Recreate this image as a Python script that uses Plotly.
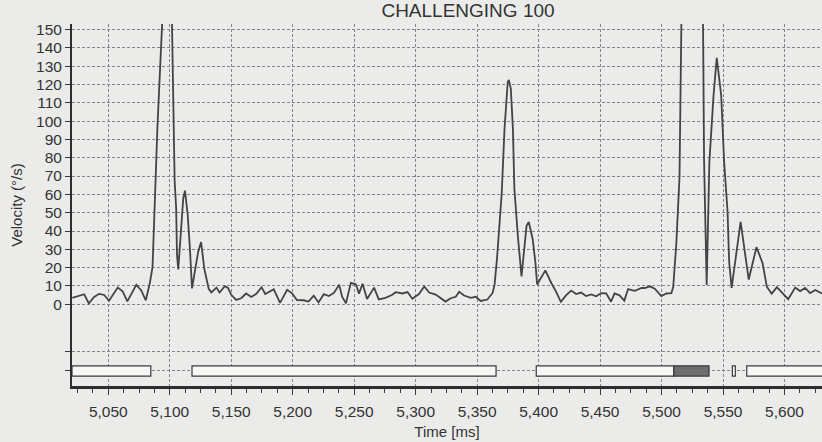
import plotly.graph_objects as go

# Eye-movement velocity trace (time in ms, velocity in deg/s)
time_ms = [
    5020.7, 5030.4, 5034.2, 5038.5, 5042.6, 5046.7, 5050.6, 5057.7, 5061.7, 5065.5,
    5072.8, 5076.7, 5080.5, 5083.7, 5086.0, 5090.0, 5097.0, 5099.5, 5101.0, 5103.4,
    5104.0, 5105.2, 5105.9, 5106.9, 5111.0, 5112.4, 5114.6, 5116.4, 5118.1, 5123.1,
    5125.5, 5128.1, 5131.7, 5133.8, 5138.0, 5140.5, 5144.8, 5147.4, 5150.0, 5154.0,
    5158.1, 5162.1, 5166.3, 5170.4, 5174.7, 5177.7, 5184.6, 5189.7, 5195.5, 5199.5,
    5203.4, 5208.8, 5212.9, 5217.1, 5221.0, 5225.3, 5229.3, 5233.5, 5237.8, 5240.2,
    5243.3, 5247.3, 5251.4, 5253.9, 5256.8, 5260.5, 5266.2, 5270.0, 5275.5, 5281.0,
    5283.8, 5289.2, 5293.4, 5297.3, 5302.7, 5307.0, 5311.0, 5316.3, 5320.3, 5324.3,
    5328.5, 5332.6, 5335.4, 5339.4, 5344.8, 5348.9, 5352.9, 5358.3, 5362.6, 5364.2,
    5366.2, 5368.4, 5370.0, 5372.3, 5374.9, 5375.8, 5377.4, 5379.1, 5380.3, 5383.1,
    5385.1, 5386.1, 5390.2, 5392.0, 5395.2, 5397.4, 5398.8, 5405.5, 5410.4, 5414.2,
    5418.1, 5422.3, 5426.5, 5430.5, 5434.6, 5438.6, 5442.8, 5446.8, 5450.9, 5455.0,
    5458.9, 5461.8, 5465.8, 5469.7, 5472.8, 5478.2, 5483.7, 5486.4, 5490.5, 5494.5,
    5499.8, 5503.9, 5508.0, 5509.5, 5512.0, 5514.6, 5517.5, 5524.0, 5531.0, 5533.5,
    5534.6, 5535.5, 5536.7, 5538.9, 5542.3, 5544.9, 5548.5, 5550.9, 5553.7, 5555.0,
    5557.0, 5564.3, 5570.9, 5577.2, 5582.2, 5585.6, 5589.6, 5593.8, 5597.8, 5603.0,
    5608.7, 5612.7, 5616.8, 5620.8, 5625.0, 5630.4,
]
velocity = [
    3.5, 5.5, 0.5, 4.0, 5.7, 5.1, 1.9, 9.1, 7.1, 1.6,
    10.6, 7.7, 2.2, 11.2, 20.3, 97.0, 200.0, 222.0, 185.0, 100.0,
    67.2, 52.6, 27.1, 19.0, 57.9, 62.0, 48.8, 30.5, 8.7, 28.6,
    34.0, 19.4, 8.4, 6.5, 9.1, 6.4, 9.9, 8.9, 5.2, 2.4,
    3.3, 5.9, 4.0, 5.7, 9.3, 5.6, 8.2, 0.8, 7.9, 6.0,
    2.3, 2.2, 1.5, 4.7, 1.0, 5.5, 4.5, 6.2, 10.7, 4.2,
    0.5, 11.7, 10.9, 5.8, 11.2, 2.9, 9.1, 2.7, 3.5, 5.2,
    6.6, 5.9, 6.7, 3.0, 5.6, 9.7, 6.4, 5.3, 3.4, 1.5,
    3.3, 4.1, 6.8, 4.8, 3.5, 4.1, 1.8, 2.6, 6.2, 10.7,
    25.2, 43.4, 60.5, 96.0, 121.4, 122.5, 117.7, 95.9, 63.1, 37.5,
    23.0, 15.2, 42.8, 45.0, 35.5, 22.7, 10.8, 18.5, 11.5, 6.9,
    1.3, 4.9, 7.5, 5.6, 6.4, 4.5, 5.4, 4.4, 6.1, 6.0,
    1.4, 5.9, 4.9, 2.0, 8.3, 7.3, 9.0, 8.9, 9.8, 8.5,
    4.5, 5.9, 6.1, 9.4, 33.0, 69.3, 230.0, 330.0, 260.0, 175.0,
    78.0, 41.6, 10.6, 77.9, 114.2, 134.5, 114.1, 77.6, 50.3, 23.0,
    9.0, 45.0, 13.5, 31.2, 22.4, 9.6, 5.8, 9.4, 6.6, 2.8,
    9.1, 7.2, 8.9, 6.1, 7.8, 5.9,
]

# Event bars in the lower band (start / end times in ms)
event_start = [5020.5, 5118.1, 5398.1, 5557.6, 5569.3]
event_end = [5084.6, 5365.4, 5510.0, 5560.0, 5640.0]
blink_start = [5510.0]
blink_end = [5538.6]
event_level = -36.4
event_height = 5.6

x_tick_vals = [5050, 5100, 5150, 5200, 5250, 5300, 5350, 5400, 5450, 5500, 5550, 5600]
x_tick_labels = ["5,050", "5,100", "5,150", "5,200", "5,250", "5,300", "5,350",
                 "5,400", "5,450", "5,500", "5,550", "5,600"]
y_tick_vals = [-36.4, -26.0] + list(range(0, 151, 10))
y_tick_labels = ["", ""] + [str(v) for v in range(0, 151, 10)]

paper = "#ebebea"
ink = "#3a3a3a"
grid = "#858585"
font = "Liberation Sans, Arial, sans-serif"

fig = go.Figure()

fig.add_trace(go.Bar(
    y=[event_level] * len(event_start),
    x=[e - s for s, e in zip(event_start, event_end)],
    base=event_start,
    orientation="h",
    width=event_height,
    marker=dict(color="#f6f6f5", line=dict(color=ink, width=1.2)),
    showlegend=False,
    hoverinfo="skip",
))
fig.add_trace(go.Bar(
    y=[event_level] * len(blink_start),
    x=[e - s for s, e in zip(blink_start, blink_end)],
    base=blink_start,
    orientation="h",
    width=event_height,
    marker=dict(color="#6e6e6e", line=dict(color=ink, width=1.2)),
    showlegend=False,
    hoverinfo="skip",
))

fig.add_trace(go.Scatter(
    x=time_ms, y=velocity, mode="lines",
    line=dict(color="#444444", width=1.8),
    showlegend=False, cliponaxis=True,
))

fig.update_layout(
    width=822, height=442,
    margin=dict(l=72, r=0, t=24, b=56),
    paper_bgcolor=paper, plot_bgcolor=paper,
    barmode="overlay",
    font=dict(family=font, color="#2e2e2e"),
    title=dict(text="CHALLENGING 100", x=468 / 822, xanchor="center",
               y=1 - 10 / 442, yref="container", yanchor="middle",
               font=dict(size=19, color="#333333")),
)

fig.update_xaxes(
    range=[5020.5, 5630.5],
    tickvals=x_tick_vals, ticktext=x_tick_labels,
    tickfont=dict(size=15.5, color="#333333"),
    ticks="outside", ticklen=6, tickcolor=ink, tickwidth=1.2,
    ticklabelstandoff=4,
    minor=dict(dtick=12.5, ticks="outside", ticklen=4, tickcolor=ink, showgrid=False),
    showgrid=True, gridcolor=grid, gridwidth=1, griddash="3px,2px",
    showline=True, linecolor="#2e2e2e", linewidth=2.5,
    zeroline=False,
    title=dict(text="Time [ms]", font=dict(size=15, color="#333333"), standoff=8),
)
fig.update_yaxes(
    range=[-44.6, 153],
    tickvals=y_tick_vals, ticktext=y_tick_labels,
    tickfont=dict(size=15.5, color="#333333"),
    ticks="outside", ticklen=5, tickcolor=ink, tickwidth=1.2,
    showgrid=True, gridcolor=grid, gridwidth=1, griddash="3px,2px",
    showline=True, linecolor="#2e2e2e", linewidth=2,
    zeroline=False,
    title=dict(text="Velocity (°/s)", font=dict(size=15, color="#333333"), standoff=10),
)

fig.write_html("out.html")
